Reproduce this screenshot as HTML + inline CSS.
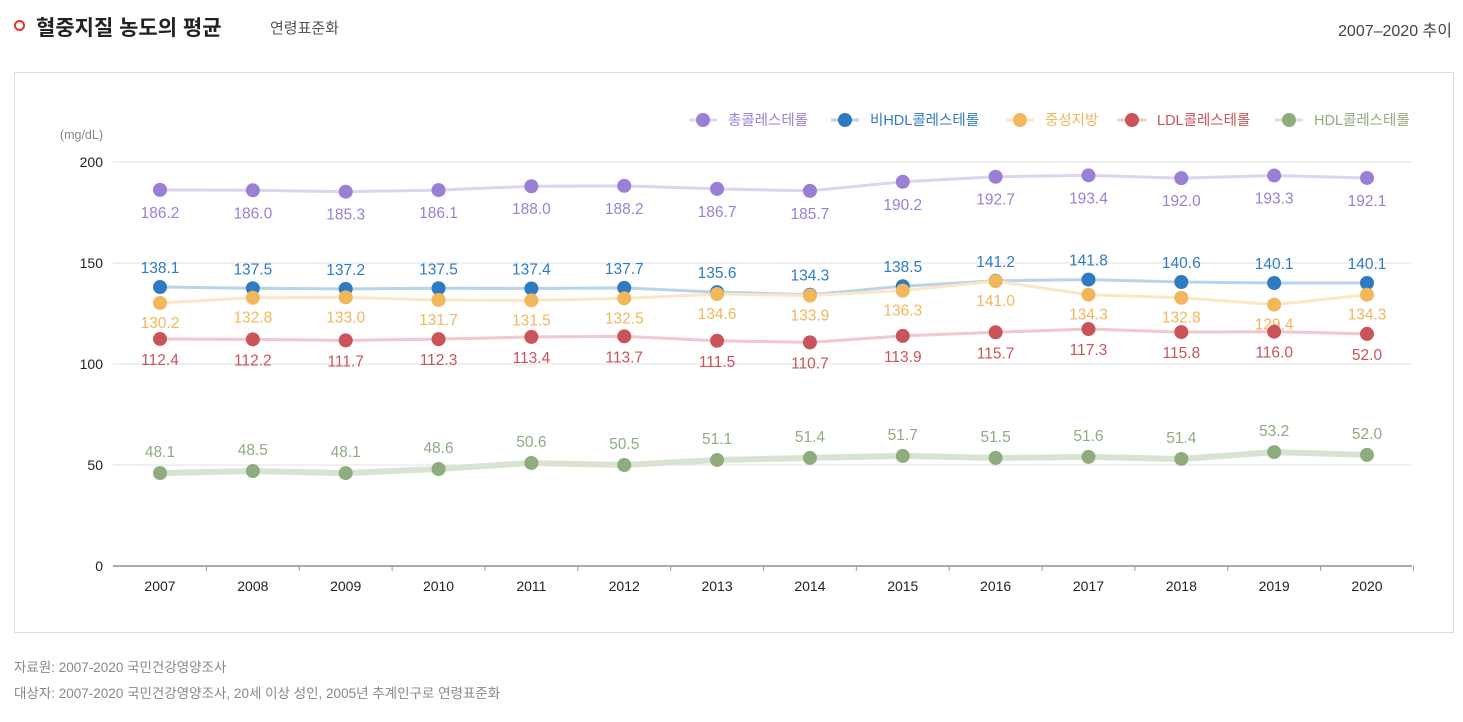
<!DOCTYPE html>
<html><head><meta charset="utf-8"><style>
body{margin:0;width:1463px;height:722px;background:#fff;font-family:"Liberation Sans","Noto Sans CJK KR",sans-serif;overflow:hidden;position:relative}
.t{position:absolute}
</style></head><body>
<div class="t" style="left:14px;top:20px;width:7px;height:7px;border:2.5px solid #e8322d;border-radius:50%"></div>
<div class="t" style="left:36px;top:12px;font-size:21px;font-weight:bold;color:#222">혈중지질 농도의 평균</div>
<div class="t" style="left:270px;top:17px;font-size:15px;color:#555">연령표준화</div>
<div class="t" style="right:11px;top:17px;font-size:16px;color:#444">2007–2020 추이</div>
<div class="t" style="left:14px;top:72px;width:1438px;height:559px;border:1px solid #ddd"></div>
<div class="t" style="left:14px;top:656px;font-size:13.5px;color:#888">자료원: 2007-2020 국민건강영양조사</div>
<div class="t" style="left:14px;top:682px;font-size:13.5px;color:#888">대상자: 2007-2020 국민건강영양조사, 20세 이상 성인, 2005년 추계인구로 연령표준화</div>
<svg id="c" class="t" style="left:0;top:0" width="1463" height="722"></svg>
<script>
const years=[2007,2008,2009,2010,2011,2012,2013,2014,2015,2016,2017,2018,2019,2020];
const totalVals=[186.2,186.0,185.3,186.1,188.0,188.2,186.7,185.7,190.2,192.7,193.4,192.0,193.3,192.1];
const nonHdlVals=[138.1,137.5,137.2,137.5,137.4,137.7,135.6,134.3,138.5,141.2,141.8,140.6,140.1,140.1];
const tgVals=[130.2,132.8,133.0,131.7,131.5,132.5,134.6,133.9,136.3,141.0,134.3,132.8,129.4,134.3];
const ldlVals=[112.4,112.2,111.7,112.3,113.4,113.7,111.5,110.7,113.9,115.7,117.3,115.8,116.0,114.9];
const ldlLabels=["112.4","112.2","111.7","112.3","113.4","113.7","111.5","110.7","113.9","115.7","117.3","115.8","116.0","52.0"];
const hdlVals=[46.0,47.0,46.0,48.0,51.0,50.0,52.5,53.5,54.5,53.5,54.0,53.0,56.4,55.0];
const hdlLabels=["48.1","48.5","48.1","48.6","50.6","50.5","51.1","51.4","51.7","51.5","51.6","51.4","53.2","52.0"];
const yTicks=[0,50,100,150,200];
const svg=document.getElementById('c');const NS='http://www.w3.org/2000/svg';
const X=i=>160+i*(1367-160)/13, Y=v=>566-v*2.02;
function mk(t,a,p){const e=document.createElementNS(NS,t);for(const k in a)e.setAttribute(k,a[k]);(p||svg).appendChild(e);return e;}
yTicks.forEach(v=>{
 if(v>0){const g=mk('line',{x1:113,x2:1412,y1:Y(v),y2:Y(v),stroke:'#e2e2e2'});}
 const t=mk('text',{x:103,y:Y(v)+5,'text-anchor':'end','font-size':14,fill:'#222'});t.textContent=v;
 
});
const u=mk('text',{x:103,y:139,'text-anchor':'end','font-size':12.5,fill:'#888'});u.textContent='(mg/dL)';

const ax=mk('line',{x1:113,x2:1412,y1:566,y2:566,stroke:'#555'});

years.forEach((y,i)=>{
 const tk=mk('line',{x1:X(i)+46.4,x2:X(i)+46.4,y1:566,y2:571,stroke:'#999'});
 
 const t=mk('text',{x:X(i),y:591,'text-anchor':'middle','font-size':14,fill:'#222'});t.textContent=y;
 
});
const series=[
 {name:'total',vals:totalVals,labels:null,c:'#9b7fd4',lc:'#ddd4ef',w:3,off:28},
 {name:'non-hdl',vals:nonHdlVals,labels:null,c:'#2f7bc2',lc:'#b9d3ea',w:3,off:-14},
 {name:'tg',vals:tgVals,labels:null,c:'#f2b75b',lc:'#fbe6c6',w:3,off:25},
 {name:'ldl',vals:ldlVals,labels:ldlLabels,c:'#c9545a',lc:'#efc9cb',w:3,off:26},
 {name:'hdl',vals:hdlVals,labels:hdlLabels,c:'#8fac7e',lc:'#d8e3d1',w:6,off:-16}
];
series.forEach(s=>{
 const g=mk('g',{});
 const p=mk('polyline',{points:s.vals.map((v,i)=>X(i)+','+Y(v)).join(' '),fill:'none',stroke:s.lc,'stroke-width':s.w},g);
 
 s.vals.forEach((v,i)=>{
  const c=mk('circle',{cx:X(i),cy:Y(v),r:7,fill:s.c},g);
  
  const t=mk('text',{x:X(i),y:Y(v)+s.off,'text-anchor':'middle','font-size':15.5,fill:s.c},g);
  t.textContent=s.labels?s.labels[i]:v.toFixed(1);
  
 });
});
const leg=[['총콜레스테롤',703,'#9b7fd4','#ddd4ef'],['비HDL콜레스테롤',845,'#2f7bc2','#b9d3ea'],['중성지방',1020,'#f2b75b','#fbe6c6'],['LDL콜레스테롤',1132,'#c9545a','#efc9cb'],['HDL콜레스테롤',1289,'#8fac7e','#d8e3d1']];
leg.forEach(l=>{
 const g=mk('g',{});
 mk('line',{x1:l[1]-14,x2:l[1]+14,y1:120,y2:120,stroke:l[3],'stroke-width':3},g);
 mk('circle',{cx:l[1],cy:120,r:7,fill:l[2]},g);
 const t=mk('text',{x:l[1]+25,y:125,'font-size':14.5,fill:l[2]},g);t.textContent=l[0];
});
</script>
</body></html>
